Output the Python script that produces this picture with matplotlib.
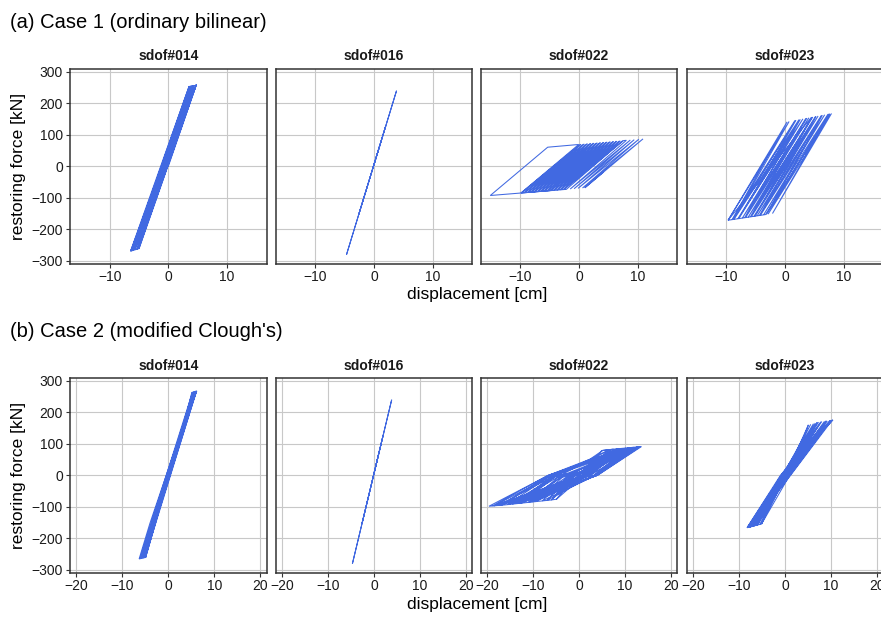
import matplotlib
matplotlib.use("Agg")
import matplotlib.pyplot as plt

plt.rcParams["font.family"] = ["Liberation Sans", "DejaVu Sans"]

# turning points of each restoring-force loop
# displacement [cm] / restoring force [kN]

# ---- Case 1 (ordinary bilinear)
case1_014_disp = [0.0, 4.82, -4.99, -6.46, 3.56,
                  -6.25, 3.82, -5.97, 4.14, -5.75, 4.35, -5.36, 4.74, -5.07, 4.79,
                  -6.36, 3.76, -6.02, 4.08, -5.64, 4.46, -5.31, 3.66, -5.02, 3.87, -6.42,
                  -5.2, 4.1, -5.6, 3.9, -5.1, 4.4, -6.0,
                  3.2, -5.3, 3.7, -5.5, 4.0, -4.6, 4.3, -5.1, 4.6, -3.8, 2.5, -1.0]
case1_014_force = [0, 260, -260.6, -269, 254.6,
                   -267.5, 255.5, -266, 256.5, -265, 257.3, -263, 259.3, -261, 259.5,
                   -268.3, 255.3, -266.3, 256.3, -264.5, 257.8, -262.8, 255, -260.8, 255.8, -268.7,
                   -210, 258, -250, 230, -245, 257, -264,
                   220, -230, 228, -254, 235, -220, 240, -255, 250, -180, 150, -20]

case1_016_disp = [-0.1, 3.85, -4.70, 2.0, -2.6, 1.0, -0.1]
case1_016_force = [0, 240, -280, 128, -152, 67, 0]

case1_022_disp = [0.0, -4.93, -15.16, -5.35, -0.05, -9.91, 0.23, -9.35, 0.79, -8.80,
                  1.35, -8.25, 1.91, -7.70, 2.46, -7.14, 3.02, -6.59, 3.58, -6.04,
                  4.14, -5.48, 4.70, -4.93, 5.25, -4.38, 5.81, -3.82, 6.37, -3.27,
                  6.93, -2.72, 7.48, -2.16,
                  -9.77, 0.37, -9.22, 0.93, -8.66, 1.49, -8.11, 2.05, -7.56, 2.60,
                  -7.00, 3.16, -6.45, 3.72, -5.90, 4.28, -5.34, 4.83, -4.79, 5.39,
                  -4.24, 5.95, -3.68, 6.51, -3.13, 7.07, -2.58, 7.62,
                  8.10, -1.50, 8.77, -0.84, 9.44, -0.17,
                  10.22, 0.60, 10.94, 0.99, 4.07]
case1_022_force = [0, -76.9, -92.3, 60.9, 69.5, -84.4, 69.9, -83.5, 70.8, -82.7,
                   71.7, -81.9, 72.6, -81.1, 73.5, -80.2, 74.4, -79.4, 75.3, -78.6,
                   76.2, -77.7, 77.2, -76.9, 78.1, -76.1, 79.0, -75.2, 79.9, -74.4,
                   80.8, -73.6, 81.7, -72.8,
                   -84.2, 70.2, -83.3, 71.1, -82.5, 72.0, -81.7, 72.9, -80.8, 73.8,
                   -80.0, 74.7, -79.2, 75.6, -78.4, 76.5, -77.5, 77.4, -76.7, 78.3,
                   -75.9, 79.2, -75.0, 80.1, -74.2, 81.0, -73.4, 81.9,
                   82.7, -71.8, 83.7, -70.8, 84.8, -69.8,
                   86.1, -68.6, 87.3, -68.0, -20]

case1_023_disp = [0.0, 4.53, -9.73, 0.36, -9.05, 1.71, -8.72, 2.39, -8.06, 3.06,
                  -7.29, 3.74, -6.74, 4.08, -6.30, 4.75, -5.75, 5.21, -5.31, 5.66,
                  -4.76, 6.22, -4.21, 6.78, -3.66, 7.35, -2.89, 7.95, -2.14, 7.68,
                  -3.33, -9.73, 0.70, -8.88, 1.88, -7.89, 2.61, -6.90, 3.57, -5.92,
                  4.59, -5.09, 5.32, -4.38, 6.39, -3.17, 7.57, 3.49]
case1_023_force = [0, 156, -170.8, 141.3, -168.9, 146, -168, 148.4, -166.1, 150.8,
                   -163.9, 153.1, -162.4, 154.3, -161.2, 156.7, -159.6, 158.3, -158.4, 159.9,
                   -156.8, 161.8, -155.3, 163.8, -153.7, 165.8, -151.5, 167.9, -149.5, 166.9,
                   -152.8, -170.8, 142.5, -168.4, 146.6, -165.6, 149.2, -162.9, 152.6, -160.1,
                   156.1, -157.8, 158.7, -155.8, 162.4, -152.4, 166.6, 40]

# ---- Case 2 (modified Clough's)
case2_014_disp = [0.0, 3.0, 5.12, 6.21, 3.65, -4.0, -4.88, -6.35, -4.0, 4.2, 5.6, 0.8,
                  -4.6, -5.9, -0.2, 4.6, 6.0, 2.0, -3.5, -5.4, -2.0, 3.8, 5.3, 0.3,
                  -4.5, -6.0, -1.0, 4.0, 5.8, 1.5, -4.3, -5.2,
                  6.11, -5.01, 5.26, -6.18, 5.90, -5.19, 5.42, -6.07, 5.74, -5.36,
                  5.53, -5.80, 6.06, -5.52, 5.31, -4.92, 0.2]
case2_014_force = [0, 140, 263, 268, 166, -180, -260, -265, -152, 200, 265, 30,
                   -220, -263, -5, 215, 267, 80, -170, -262, -100, 180, 264, 10,
                   -200, -264, -40, 190, 266, 60, -210, -261,
                   266, -259, 263.5, -264.5, 265.5, -260.5, 264, -264, 265, -261.5,
                   264.5, -263, 265.8, -262, 263.8, -259.5, 0]

case2_016_disp = [-0.1, 3.85, -4.70, 2.0, -2.6, 1.0, -0.1]
case2_016_force = [0, 240, -280, 128, -152, 67, 0]

case2_022_disp = [0.0, 3.5, 5.0, 0.4, -1.5, -4.9, -6.0, -2.0, 1.0, 5.0, 7.5, 1.5,
                  -1.0, -6.0, -16.2, -19.6, -6.7, 2.4, 5.2, 7.5, 13.6, 4.0, -0.5, -4.9,
                  -1.2, -17.5, -5.5, 0.5, 11.8, 2.0, -0.8, -14.5, -4.5, 0.2, 10.2, 1.5,
                  -1.0, -12.8, -3.8, 0.0, 9.0, 1.0, -1.5, -11.0, -3.0, 0.8, 12.6, 2.6,
                  -0.6, -18.5, -6.0, -0.5, 8.2, 0.8, -1.8, -9.5, -2.5, 1.2, 13.0, 3.2,
                  -0.3, -15.4, -5.0, 0.3, 10.9, 2.3,
                  -17.0, -6.57, 12.0, 3.61, -8.0, -2.20, 9.5, 2.51,
                  -14.0, -5.59, 13.0, 3.92, -11.0, -4.06, 6.5, 0.75,
                  -18.8, -6.79, 10.8, 3.12, -7.0, -1.52, 12.8, 3.86,
                  -12.5, -4.87, 8.5, 1.96, -15.5, -6.16, 11.3, 3.34,
                  -9.5, -3.16, 13.3, 3.99, -13.3, -5.28, 7.0, 1.07,
                  -16.8, -6.53, 9.0, 2.24, -10.3, -3.66, 11.8, 3.54, 0.0]
case2_022_force = [0, 54.6, 78.8, 8, -18, -75.6, -77.8, -12, 14, 78.8, 83.2, 10,
                   -14, -77.8, -93.7, -97.8, 0, 51.4, 79.5, 83.2, 91.5, 0, -19.6, -75.6,
                   -6, -95.5, -2, 12, 89, 4, -12, -91, -4, 8, 87, 2,
                   -15, -88.5, -6, 5, 85.5, -1, -20, -86, -8, 10, 90.2, 2,
                   -10, -96.8, -1, 4, 84.3, -4, -22, -83, -9, 8, 90.8, -1,
                   -8, -92.5, -3, 6, 88.2, 6,
                   -94.0, 0, 89.2, 0, -80.7, 0, 85.6, 0,
                   -89.6, 0, 90.7, 0, -85.2, 0, 81.4, 0,
                   -96.6, 0, 87.5, 0, -79.3, 0, 90.4, 0,
                   -87.4, 0, 84.2, 0, -91.8, 0, 88.2, 0,
                   -83.0, 0, 91.1, 0, -88.5, 0, 82.1, 0,
                   -93.7, 0, 84.9, 0, -84.1, 0, 88.9, 0, -25]

case2_023_disp = [0.0, 4.0, 5.1, 2.0, -1.0, -4.0, -5.1, -1.5, 1.5, 7.3, 2.5, -2.0,
                  -5.1, -8.25, -3.5, 0.5, 10.43, 3.0, -1.5, -7.0, -2.0, 1.2, 9.0, 2.0,
                  -0.5, -6.0, -1.2, 0.8, 8.0, 1.0, -2.5, -7.6, -2.8, 2.2, 10.0, 1.5,
                  -1.8, -6.6,
                  -8.25, -1.0, 9.2, 0.9, -7.0, -0.7, 6.2, 0.2, -6.0, -0.3, 10.0, 1.1,
                  -7.6, -0.9, 7.8, 0.5, -5.5, 0.0, 8.6, 0.7, -6.6, -0.5, 5.6, -0.1,
                  -7.9, -0.8, 9.8, 1.0, -5.1, 0.2, 7.0, 0.3, -6.3, -0.4, 10.3, 1.2,
                  -7.3, -0.6, 6.6, 0.4, 0.0]
case2_023_force = [0, 120, 160.3, 60, -20, -110, -154, -40, 40, 168.9, 70, -40,
                   -154, -165.7, -60, 20, 176.2, 60, -15, -162, -35, 30, 173, 45,
                   -5, -158, -30, 15, 171, 30, -45, -164, -50, 50, 175, 20,
                   -30, -160,
                   -165.7, 0, 172.5, 0, -161, 0, 164, 0, -157.5, 0, 175, 0,
                   -163.5, 0, 170, 0, -155.5, 0, 171.5, 0, -159.8, 0, 162, 0,
                   -164.5, 0, 174.6, 0, -154, 0, 168, 0, -158.5, 0, 175.8, 0,
                   -162.3, 0, 166, 0, 0]

panel_titles = ["sdof#014", "sdof#016", "sdof#022", "sdof#023"]
row_titles = ["(a) Case 1 (ordinary bilinear)", "(b) Case 2 (modified Clough's)"]

rows = [
    [(case1_014_disp, case1_014_force), (case1_016_disp, case1_016_force),
     (case1_022_disp, case1_022_force), (case1_023_disp, case1_023_force)],
    [(case2_014_disp, case2_014_force), (case2_016_disp, case2_016_force),
     (case2_022_disp, case2_022_force), (case2_023_disp, case2_023_force)],
]
row_xlim = [(-16.8, 16.8), (-21.4, 21.4)]
row_xticks = [[-10, 0, 10], [-20, -10, 0, 10, 20]]
yticks = [-300, -200, -100, 0, 100, 200, 300]

W, H = 881, 617
PW, PH = 196.6, 194.2
panel_left = [70, 275.7, 480.7, 686.7]
panel_top = [69.3, 378.3]
title_y = [22, 331.5]
strip_y = [56, 366]
xlabel_y = [295, 604]

fig = plt.figure(figsize=(W / 100, H / 100), dpi=100)

for r in range(2):
    fig.text(10 / W, 1 - title_y[r] / H, row_titles[r], fontsize=14.5,
             ha="left", va="center", color="black")
    for c in range(4):
        x0 = panel_left[c]
        ax = fig.add_axes([x0 / W, 1 - (panel_top[r] + PH) / H, PW / W, PH / H])
        d, f = rows[r][c]
        ax.plot(d, f, color="#4169E1", lw=0.75, solid_joinstyle="miter")
        ax.set_xlim(*row_xlim[r])
        ax.set_ylim(-308, 308)
        ax.set_xticks(row_xticks[r])
        ax.set_yticks(yticks)
        ax.grid(True, color="#c8c8c8", lw=0.8)
        ax.set_axisbelow(True)
        for s in ax.spines.values():
            s.set_color("#333333")
            s.set_linewidth(1.1)
        ax.tick_params(direction="out", length=3, width=0.8, color="#333333",
                       labelsize=10, labelcolor="#1a1a1a", pad=2)
        if c > 0:
            ax.tick_params(axis="y", left=False, labelleft=False)
        fig.text((x0 + PW / 2) / W, 1 - strip_y[r] / H, panel_titles[c],
                 fontsize=10, fontweight="bold", color="#1a1a1a",
                 ha="center", va="center")
    fig.text(19 / W, 1 - (panel_top[r] + PH / 2) / H, "restoring force [kN]",
             rotation=90, fontsize=12.5, ha="center", va="center")
    fig.text(476.7 / W, 1 - xlabel_y[r] / H, "displacement [cm]",
             fontsize=12.5, ha="center", va="center")

fig.savefig("out.png", dpi=100)
